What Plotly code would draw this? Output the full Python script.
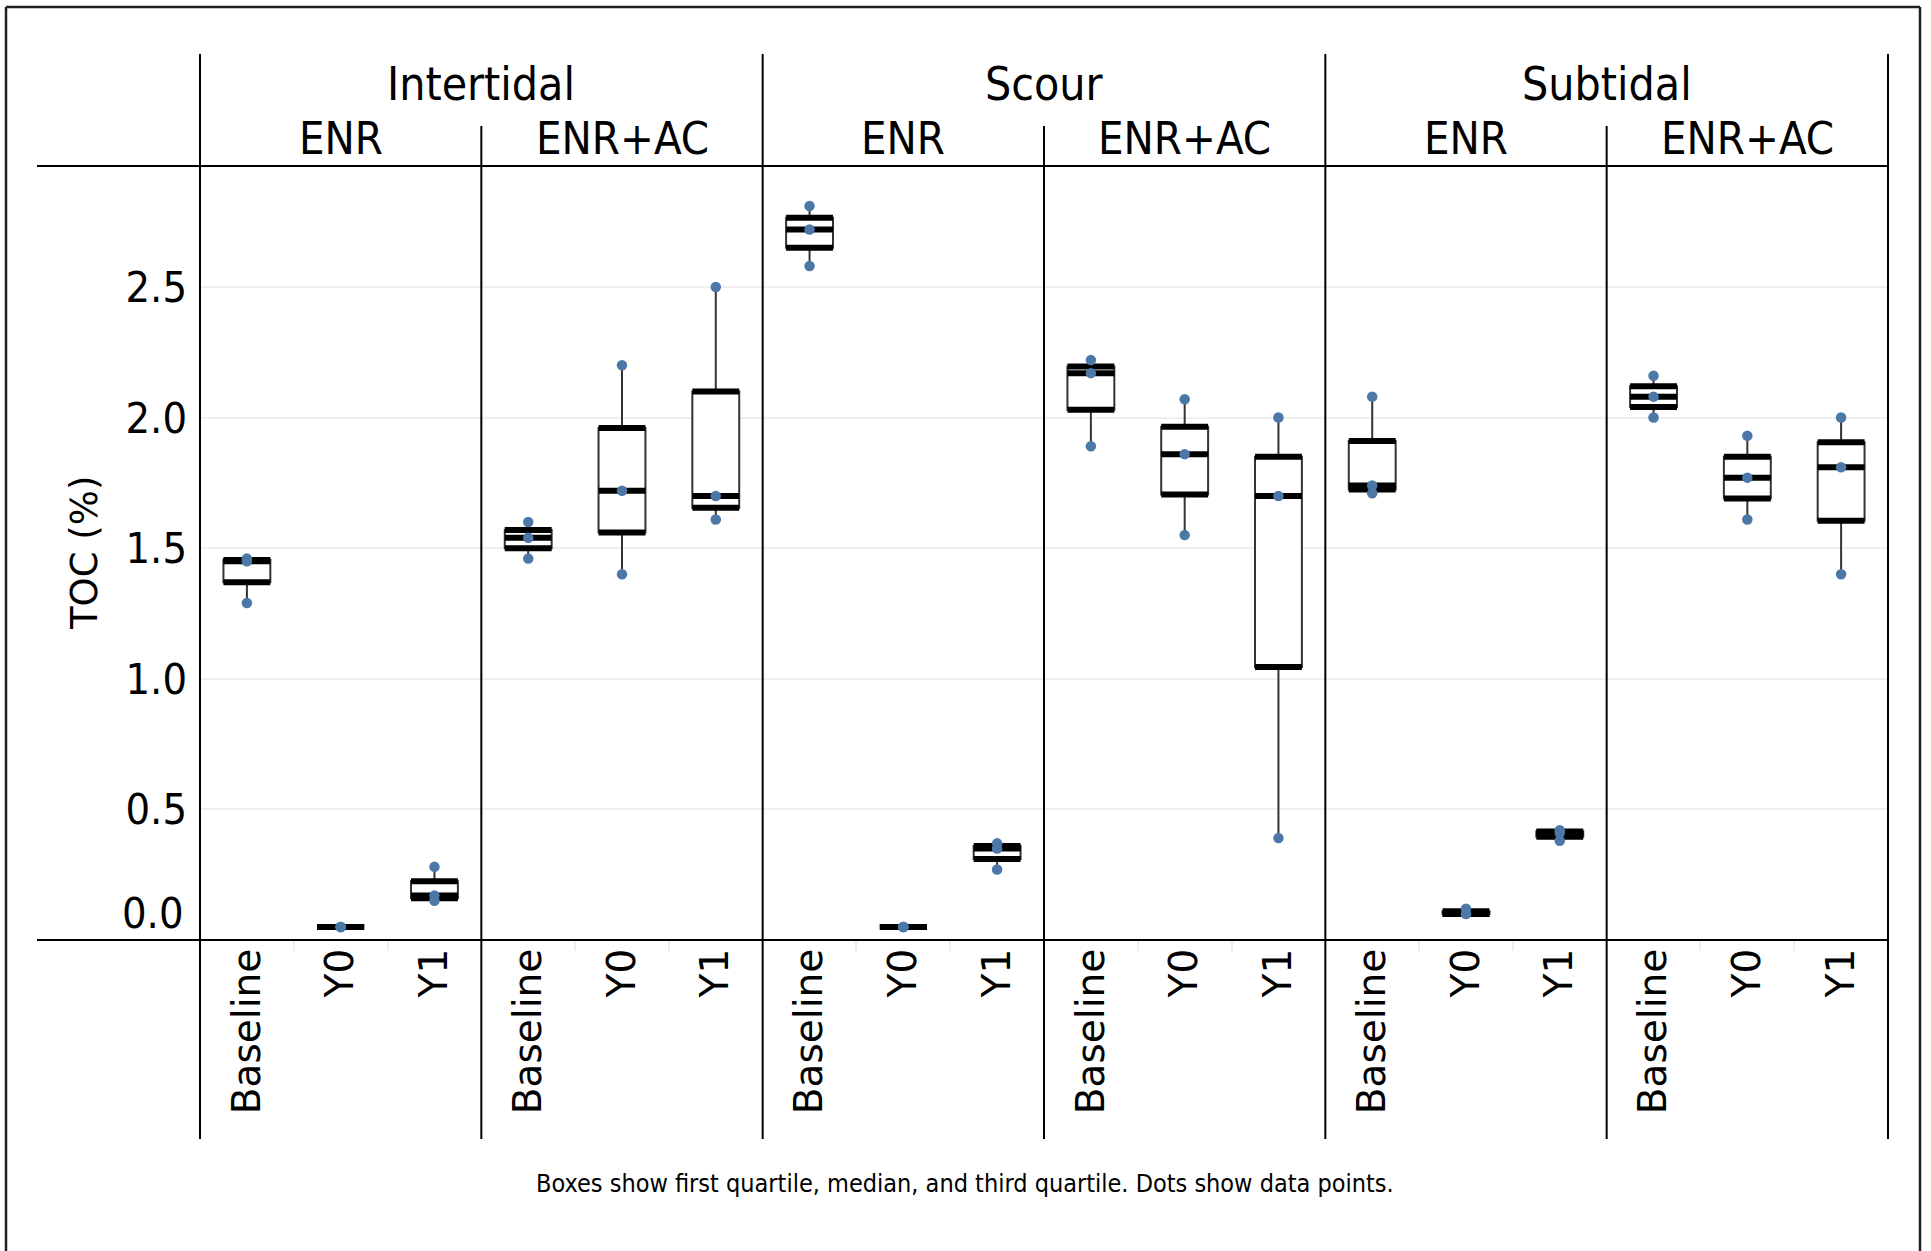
import numpy as np
import plotly.graph_objects as go
from plotly.subplots import make_subplots

# TOC (%) per panel: one list of sample values per period
sites = ["Intertidal", "Scour", "Subtidal"]
treatments = ["ENR", "ENR+AC"]
periods = ["Baseline", "Y0", "Y1"]

intertidal_enr = [[1.29, 1.45, 1.46], [0.05, 0.05, 0.05], [0.15, 0.17, 0.28]]
intertidal_enr_ac = [[1.46, 1.54, 1.60], [1.40, 1.72, 2.20], [1.61, 1.70, 2.50]]
scour_enr = [[2.58, 2.72, 2.81], [0.05, 0.05, 0.05], [0.27, 0.35, 0.37]]
scour_enr_ac = [[1.89, 2.17, 2.22], [1.55, 1.86, 2.07], [0.39, 1.70, 2.00]]
subtidal_enr = [[1.71, 1.74, 2.08], [0.10, 0.10, 0.12], [0.38, 0.41, 0.42]]
subtidal_enr_ac = [[2.00, 2.08, 2.16], [1.61, 1.77, 1.93], [1.40, 1.81, 2.00]]

panels = [intertidal_enr, intertidal_enr_ac, scour_enr, scour_enr_ac,
          subtidal_enr, subtidal_enr_ac]

y_ticks = [0.0, 0.5, 1.0, 1.5, 2.0, 2.5]
caption = "Boxes show first quartile, median, and third quartile. Dots show data points."

W, H = 1931, 1251
L, R, T, B = 200, 43, 166, 311
PW, PH = W - L - R, H - T - B

def px_x(px):
    return (px - L) / PW

def px_y(py):
    return (H - B - py) / PH

COND = "DejaVu Sans Condensed, DejaVu Sans, sans-serif"
SANS = "DejaVu Sans, sans-serif"
DOT = "#4c78a8"
BOX_W = 0.5

fig = make_subplots(rows=1, cols=6, shared_yaxes=True, horizontal_spacing=0)

for i, panel in enumerate(panels):
    pos = list(range(len(periods)))
    stats = np.array([np.percentile(v, [0, 25, 50, 75, 100]) for v in panel])
    fig.add_trace(go.Box(
        x=pos, lowerfence=stats[:, 0], q1=stats[:, 1], median=stats[:, 2],
        q3=stats[:, 3], upperfence=stats[:, 4],
        width=BOX_W, whiskerwidth=0, boxpoints=False,
        fillcolor="white", line=dict(color="#333333", width=2),
        showlegend=False, hoverinfo="skip",
    ), row=1, col=i + 1)

    # heavy quartile / median bars
    lx, ly = [], []
    for p, s in zip(pos, stats):
        for val in s[1:4]:
            lx += [p - BOX_W / 2, p + BOX_W / 2, None]
            ly += [val, val, None]
    fig.add_trace(go.Scatter(x=lx, y=ly, mode="lines",
                             line=dict(color="black", width=6),
                             showlegend=False, hoverinfo="skip"),
                  row=1, col=i + 1)

    # data points
    dx, dy = [], []
    for p, vals in zip(pos, panel):
        dx += [p] * len(vals)
        dy += list(vals)
    fig.add_trace(go.Scatter(x=dx, y=dy, mode="markers",
                             marker=dict(color=DOT, size=10.5),
                             showlegend=False),
                  row=1, col=i + 1)

    fig.update_xaxes(
        range=[-0.5, 2.5], tickmode="array", tickvals=pos, ticktext=periods,
        tickangle=-90, tickfont=dict(family=SANS, size=39, color="black"),
        showgrid=False, zeroline=False, showline=False, ticks="",
        minor=dict(tickvals=[0.5, 1.5], ticks="outside", ticklen=10,
                   tickcolor="#ededed", tickwidth=2),
        row=1, col=i + 1)

fig.update_yaxes(
    range=[0, 2.963], tickmode="array", tickvals=y_ticks,
    ticktext=[""] + [f"{v:.1f}" for v in y_ticks[1:]],
    tickfont=dict(family=COND, size=43, color="black"),
    showgrid=True, gridcolor="#efefef", gridwidth=2,
    zeroline=False, showline=False, ticks="", ticklabelstandoff=12,
)

shapes = []
line_k = dict(color="black", width=2)
# horizontal rules
for yy in (1, 0):
    shapes.append(dict(type="line", xref="paper", yref="paper",
                       x0=px_x(37), x1=1, y0=yy, y1=yy, line=line_k))
# group dividers and sub dividers
for k in range(7):
    top = px_y(54) if k % 2 == 0 else px_y(126)
    shapes.append(dict(type="line", xref="paper", yref="paper",
                       x0=k / 6, x1=k / 6, y0=top, y1=px_y(1139), line=line_k))
# outer frame
frame = dict(color="#222222", width=2.5)
for x0, x1, y0, y1 in [(6, 6, 7, 1260), (1920, 1920, 7, 1260),
                       (6, 1920, 7, 7)]:
    shapes.append(dict(type="line", xref="paper", yref="paper",
                       x0=px_x(x0), x1=px_x(x1), y0=px_y(y0), y1=px_y(y1),
                       line=frame))

annotations = []
for j, site in enumerate(sites):
    annotations.append(dict(text=site, xref="paper", yref="paper",
                            x=(2 * j + 1) / 6, y=px_y(84), showarrow=False,
                            xanchor="center", yanchor="middle",
                            font=dict(family=COND, size=46, color="black")))
    for t, trt in enumerate(treatments):
        annotations.append(dict(text=trt, xref="paper", yref="paper",
                                x=(4 * j + 2 * t + 1) / 12, y=px_y(138),
                                showarrow=False,
                                xanchor="center", yanchor="middle",
                                font=dict(family=COND, size=45, color="black")))
annotations.append(dict(text="TOC (%)", xref="paper", yref="paper",
                        x=px_x(84), y=0.5, textangle=-90, showarrow=False,
                        xanchor="center", yanchor="middle",
                        font=dict(family=SANS, size=37, color="black")))
annotations.append(dict(text="0.0", xref="paper", yref="y", x=0, y=0,
                        xanchor="right", yanchor="middle",
                        xshift=-14, yshift=27, showarrow=False,
                        font=dict(family=COND, size=43, color="black")))
annotations.append(dict(text=caption, xref="paper", yref="paper",
                        x=px_x(965), y=px_y(1183), showarrow=False,
                        xanchor="center", yanchor="middle",
                        font=dict(family=COND, size=25, color="black")))

fig.update_layout(
    width=W, height=H,
    margin=dict(l=L, r=R, t=T, b=B),
    plot_bgcolor="white", paper_bgcolor="white",
    shapes=shapes, annotations=annotations,
    boxmode="overlay",
)

fig.write_html("out.html", config={"displayModeBar": False}, post_script=(
    "document.body.style.margin='0';"
    "document.body.style.overflow='hidden';"))
